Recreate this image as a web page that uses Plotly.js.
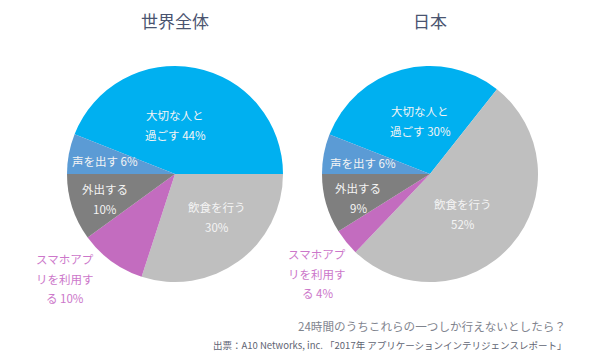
<!DOCTYPE html>
<html>
<head>
<meta charset="utf-8">
<script src="https://cdn.plot.ly/plotly-3.0.1.min.js"></script>
<style>html,body{margin:0;padding:0;background:#fff;}#chart{width:600px;height:359px;}</style>
</head>
<body>
<div id="chart"></div>
<script>
// ---- data ----
const categories = ['大切な人と過ごす', '飲食を行う', 'スマホアプリを利用する', '外出する', '声を出す'];
const worldValues = [44, 30, 10, 10, 6];
const japanValues = [30, 52, 4, 9, 6];
const labelTemplates = [
  ['大切な人と', '過ごす {v}%'],
  ['飲食を行う', '{v}%'],
  ['スマホアプ', 'リを利用す', 'る {v}%'],
  ['外出する', '{v}%'],
  ['声を出す {v}%']
];
const pieTitles = ['世界全体', '日本'];
const questionText = '24時間のうちこれらの一つしか行えないとしたら？';
const sourceText = '出票：A10 Networks, inc. 「2017年 アプリケーションインテリジェンスレポート」';

// ---- styling / layout ----
const W = 600, H = 359;
const FONT = '"Noto Sans CJK JP", "Noto Sans", sans-serif';
const sliceColors = ['#00B0F0', '#BFBFBF', '#C36CBF', '#7F7F7F', '#5B9BD5'];
const labelColors = ['#F4F4F4', '#F4F4F4', '#CC77CA', '#F4F4F4', '#F4F4F4'];
const pies = [
  {values: worldValues, cx: 175, cy: 174, r: 108,
   labelPos: [[175, 115], [217, 207], [65, 259], [105, 189], [105, 161]]},
  {values: japanValues, cx: 430, cy: 174, r: 108,
   labelPos: [[420, 111], [463, 204], [317, 254], [358, 188], [363, 163]]}
];
const lineGap = 19.5;
const px = x => x / W;
const py = y => 1 - y / H;

const traces = [];
const annotations = [];

pies.forEach((p, k) => {
  const total = p.values.reduce((a, b) => a + b, 0);
  // rotation so that the 4th slice (外出する) ends at 9 o'clock
  const before = p.values.slice(0, 4).reduce((a, b) => a + b, 0);
  const rot = 270 - before / total * 360;
  traces.push({
    type: 'pie',
    labels: categories,
    values: p.values,
    sort: false,
    direction: 'clockwise',
    rotation: rot,
    marker: {colors: sliceColors, line: {width: 0}},
    textinfo: 'none',
    textposition: 'none',
    hoverinfo: 'skip',
    showlegend: false,
    domain: {x: [px(p.cx - p.r), px(p.cx + p.r)], y: [py(p.cy + p.r), py(p.cy - p.r)]}
  });
  labelTemplates.forEach((lines, i) => {
    const [lx, ly] = p.labelPos[i];
    lines.forEach((ln, j) => {
      annotations.push({
        xref: 'paper', yref: 'paper', x: px(lx), y: py(ly + j * lineGap),
        xanchor: 'center', yanchor: 'middle', showarrow: false,
        text: ln.replace('{v}', p.values[i]),
        font: {family: FONT, size: 11.5, color: labelColors[i]}
      });
    });
  });
  annotations.push({
    xref: 'paper', yref: 'paper', x: px(p.cx), y: py(20),
    xanchor: 'center', yanchor: 'middle', showarrow: false,
    text: pieTitles[k],
    font: {family: FONT, size: 17, color: '#4A5470'}
  });
});

annotations.push({
  xref: 'paper', yref: 'paper', x: px(568), y: py(326),
  xanchor: 'right', yanchor: 'middle', showarrow: false,
  text: questionText,
  font: {family: FONT, size: 11.6, color: '#7F848E'}
});
annotations.push({
  xref: 'paper', yref: 'paper', x: px(568), y: py(345),
  xanchor: 'right', yanchor: 'middle', showarrow: false,
  text: sourceText,
  font: {family: FONT, size: 9.5, color: '#5F6573'}
});

Plotly.newPlot('chart', traces, {
  width: W, height: H,
  margin: {l: 0, r: 0, t: 0, b: 0},
  paper_bgcolor: '#FFFFFF',
  showlegend: false,
  annotations: annotations
}, {staticPlot: true, displayModeBar: false});
</script>
</body>
</html>
